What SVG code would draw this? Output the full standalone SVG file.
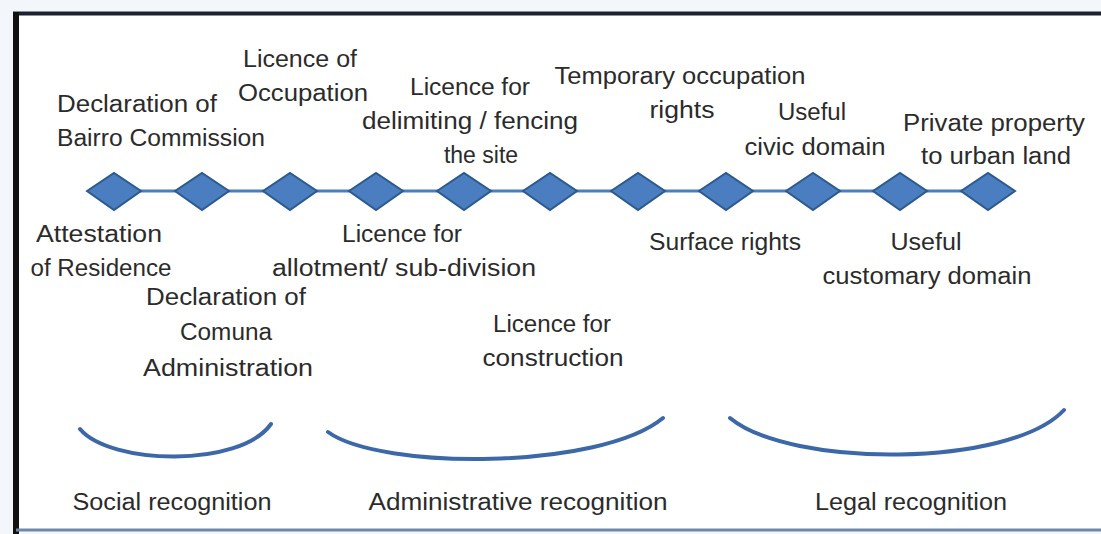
<svg xmlns="http://www.w3.org/2000/svg" width="1101" height="534" viewBox="0 0 1101 534">
<defs>
<style>
.t{font-family:"Liberation Sans","Open Sans",sans-serif;font-size:23px;fill:#2b2b2b;text-anchor:middle}
.d{fill:#4a7ec0;stroke:#2c5a8e;stroke-width:2}
.arc{fill:none;stroke:#3d68a8;stroke-width:4;stroke-linecap:round}
</style>
</defs>
<rect x="0" y="0" width="1101" height="534" fill="#f3f6fa"/>
<rect x="16" y="14" width="1090" height="516" fill="#ffffff"/>
<line x1="13" y1="13.5" x2="1101" y2="13.5" stroke="#1c2230" stroke-width="4"/>
<line x1="16" y1="12" x2="16" y2="534" stroke="#111111" stroke-width="6"/>
<line x1="16" y1="530" x2="1101" y2="530" stroke="#6e87ab" stroke-width="3"/>
<g id="connectors">
<line x1="114" y1="191" x2="988" y2="191" stroke="#4a7ec0" stroke-width="3"/>
</g>
<g id="n1"><polygon class="d" points="87,191 114,173 141,191 114,210"/><text class="t" x="99" y="242" textLength="126" lengthAdjust="spacingAndGlyphs">Attestation</text><text class="t" x="101" y="276" textLength="141" lengthAdjust="spacingAndGlyphs">of Residence</text></g>
<g id="n2"><polygon class="d" points="175,191 202,173 229,191 202,210"/><text class="t" x="137" y="112" textLength="160" lengthAdjust="spacingAndGlyphs">Declaration of</text><text class="t" x="161" y="146" textLength="208" lengthAdjust="spacingAndGlyphs">Bairro Commission</text></g>
<g id="n3"><polygon class="d" points="263,191 290,173 317,191 290,210"/><text class="t" x="226" y="305" textLength="160" lengthAdjust="spacingAndGlyphs">Declaration of</text><text class="t" x="226" y="340" textLength="92" lengthAdjust="spacingAndGlyphs">Comuna</text><text class="t" x="228" y="376" textLength="170" lengthAdjust="spacingAndGlyphs">Administration</text></g>
<g id="n4"><polygon class="d" points="349,191 376,173 403,191 376,210"/><text class="t" x="300" y="67" textLength="114" lengthAdjust="spacingAndGlyphs">Licence of</text><text class="t" x="303" y="101" textLength="130" lengthAdjust="spacingAndGlyphs">Occupation</text></g>
<g id="n5"><polygon class="d" points="437,191 464,173 491,191 464,210"/><text class="t" x="402" y="242" textLength="120" lengthAdjust="spacingAndGlyphs">Licence for</text><text class="t" x="404" y="276" textLength="264" lengthAdjust="spacingAndGlyphs">allotment/ sub-division</text></g>
<g id="n6"><polygon class="d" points="523,191 550,173 577,191 550,210"/><text class="t" x="470" y="95" textLength="120" lengthAdjust="spacingAndGlyphs">Licence for</text><text class="t" x="470" y="129" textLength="216" lengthAdjust="spacingAndGlyphs">delimiting / fencing</text><text class="t" x="481" y="163">the site</text></g>
<g id="n7"><polygon class="d" points="611,191 638,173 665,191 638,210"/><text class="t" x="552" y="332" textLength="118" lengthAdjust="spacingAndGlyphs">Licence for</text><text class="t" x="553" y="366" textLength="141" lengthAdjust="spacingAndGlyphs">construction</text></g>
<g id="n8"><polygon class="d" points="699,191 726,173 753,191 726,210"/><text class="t" x="680" y="84" textLength="251" lengthAdjust="spacingAndGlyphs">Temporary occupation</text><text class="t" x="682" y="118" textLength="65" lengthAdjust="spacingAndGlyphs">rights</text><text class="t" x="725" y="250" textLength="152" lengthAdjust="spacingAndGlyphs">Surface rights</text></g>
<g id="n9"><polygon class="d" points="786,191 813,173 840,191 813,210"/><text class="t" x="812" y="120" textLength="68" lengthAdjust="spacingAndGlyphs">Useful</text><text class="t" x="815" y="155" textLength="141" lengthAdjust="spacingAndGlyphs">civic domain</text></g>
<g id="n10"><polygon class="d" points="873,191 900,173 927,191 900,210"/><text class="t" x="926" y="250" textLength="71" lengthAdjust="spacingAndGlyphs">Useful</text><text class="t" x="927" y="284" textLength="209" lengthAdjust="spacingAndGlyphs">customary domain</text></g>
<g id="n11"><polygon class="d" points="961,191 988,173 1015,191 988,210"/><text class="t" x="994" y="131" textLength="182" lengthAdjust="spacingAndGlyphs">Private property</text><text class="t" x="996" y="164" textLength="150" lengthAdjust="spacingAndGlyphs">to urban land</text></g>
<g id="social"><path class="arc" d="M80,429 C110,465 240,468 271,424"/><text class="t" x="172" y="510" textLength="199" lengthAdjust="spacingAndGlyphs">Social recognition</text></g>
<g id="administrative"><path class="arc" d="M328,432 C380,470 600,470 663,418"/><text class="t" x="518" y="510" textLength="299" lengthAdjust="spacingAndGlyphs">Administrative recognition</text></g>
<g id="legal"><path class="arc" d="M730,418 C790,468 1010,468 1064,410"/><text class="t" x="911" y="510" textLength="192" lengthAdjust="spacingAndGlyphs">Legal recognition</text></g>
</svg>
